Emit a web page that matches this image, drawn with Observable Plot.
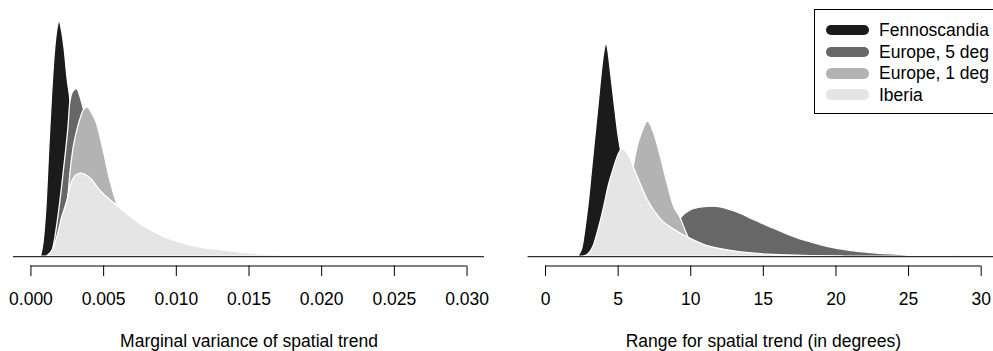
<!DOCTYPE html>
<html>
<head>
<meta charset="utf-8">
<script src="https://cdn.jsdelivr.net/npm/d3@7"></script>
<script src="https://cdn.jsdelivr.net/npm/@observablehq/plot@0.6"></script>
<style>
  html, body { margin: 0; padding: 0; background: white; }
  #wrap { position: relative; width: 993px; height: 351px; overflow: hidden; display: flex; font-family: "Liberation Sans", Arial, sans-serif; }
  #legend { position: absolute; left: 814px; top: 9px; width: 200px; height: 105px; border: 1px solid #000; background: white; box-sizing: border-box; }
  .row { position: absolute; left: 0; height: 22px; display: flex; align-items: center; }
  .sw { position: absolute; left: 11px; width: 43px; height: 10.7px; border-radius: 5.35px; }
  .lab { position: absolute; left: 64px; font-size: 17.5px; line-height: 22px; white-space: nowrap; color: #000; }
</style>
</head>
<body>
<div id="wrap"><div id="legend"></div></div>
<script>
// ---- Data (density estimates) ----
const series = ["Fennoscandia", "Europe, 5 deg", "Europe, 1 deg", "Iberia"];
const colors = ["#1b1b1b", "#676767", "#b3b3b3", "#e5e5e5"];

// Left panel: marginal variance of spatial trend  [value, density]
const varFenno = [[0.00069,0],[0.00087,60],[0.0011,247],[0.00126,460],[0.00144,672],[0.00167,885],[0.00182,965],[0.00197,1000],[0.00212,965],[0.00231,885],[0.00255,741],[0.00268,683],[0.0029,520],[0.0031,380],[0.0034,200],[0.0038,70],[0.0043,15],[0.005,0]];
const varEur5  = [[0.0013,0],[0.00147,17],[0.00167,77],[0.0019,174],[0.00213,289],[0.00236,417],[0.00259,557],[0.0027,650],[0.0029,700],[0.00317,713],[0.0034,680],[0.00367,620],[0.0042,500],[0.0048,300],[0.0055,130],[0.0062,40],[0.007,10],[0.008,0]];
const varEur1  = [[0.0015,0],[0.002,80],[0.0024,180],[0.0026,270],[0.0027,345],[0.00293,460],[0.00328,557],[0.00362,620],[0.0039,635],[0.0042,610],[0.00454,566],[0.005,451],[0.00546,323],[0.00592,225],[0.0065,130],[0.0075,50],[0.0085,15],[0.01,0]];
const varIber  = [[0.0011,0],[0.00156,34],[0.0019,103],[0.00213,162],[0.00248,231],[0.00282,316],[0.00312,345],[0.00346,353],[0.0041,332],[0.00477,280],[0.0059,217],[0.00752,139],[0.00867,97],[0.01096,47],[0.01325,26],[0.01555,11],[0.01784,4],[0.0201,0]];
const varTicks = [0, 0.005, 0.010, 0.015, 0.020, 0.025, 0.030];
const varYmax = 1000;

// Right panel: range for spatial trend (degrees)  [value, density]
const rngFenno = [[2.22,0],[2.53,0.024],[2.75,0.086],[2.98,0.168],[3.21,0.272],[3.44,0.375],[3.67,0.478],[3.9,0.582],[4.05,0.635],[4.2,0.659],[4.34,0.635],[4.48,0.582],[4.75,0.478],[5.0,0.385],[5.3,0.30],[5.6,0.2],[6.0,0.11],[6.5,0.045],[7.0,0.013],[7.6,0]];
const rngEur5  = [[6.0,0],[7.0,0.01],[8.0,0.04],[8.5,0.07],[9.0,0.1],[9.3,0.118],[9.98,0.143],[10.8,0.153],[11.6,0.155],[12.4,0.149],[13.2,0.137],[14.3,0.115],[15.5,0.091],[16.6,0.07],[17.8,0.05],[19,0.035],[20.1,0.024],[22.4,0.011],[24.7,0.005],[27,0.002],[29,0]];
const rngEur1  = [[4.5,0],[5.0,0.05],[5.5,0.15],[5.97,0.26],[6.08,0.282],[6.31,0.334],[6.66,0.385],[7.05,0.419],[7.46,0.385],[7.92,0.313],[8.38,0.23],[8.83,0.158],[9.3,0.12],[9.64,0.081],[10.0,0.045],[10.5,0.02],[11.2,0]];
const rngIber  = [[2.64,0],[2.98,0.008],[3.33,0.034],[3.67,0.086],[4.01,0.148],[4.36,0.22],[4.7,0.272],[5.05,0.318],[5.33,0.334],[5.74,0.313],[6.31,0.251],[7.0,0.179],[7.92,0.117],[9.07,0.078],[10.0,0.055],[11.0,0.035],[12.9,0.017],[15.3,0.006],[17.8,0.002],[20.5,0]];
const rngTicks = [0, 5, 10, 15, 20, 25, 30];
const rngYmax = 0.73;

const varTitle = "Marginal variance of spatial trend";
const rngTitle = "Range for spatial trend (in degrees)";

// ---- Drawing ----
const FONT = '"Liberation Sans", Arial, sans-serif';
function panel({curves, ticks, ymax, xdom, width, marginLeft, marginRight, title, titleX, fmt}) {
  const ylo = -0.04 * ymax, yhi = 1.04 * ymax;
  const marks = curves.map((c, i) => Plot.areaY(c, {
    x: d => d[0], y: d => d[1], fill: colors[i], stroke: "white", strokeWidth: 1.3, curve: "monotone-x"
  }));
  marks.push(Plot.ruleY([0], {stroke: "#2e2e2e", strokeWidth: 1.4}));
  marks.push(Plot.ruleY([ylo], {x1: ticks[0], x2: ticks[ticks.length - 1], stroke: "black", strokeWidth: 1}));
  marks.push(Plot.axisX({ticks, tickSize: 10.5, tickPadding: 15.6, tickFormat: fmt, label: null, stroke: "black", fill: "black", fontSize: 17.5}));
  marks.push(Plot.text([title], {x: titleX, frameAnchor: "bottom", lineAnchor: "bottom", dy: 81, fontSize: 17.5, fill: "black"}));
  return Plot.plot({
    width, height: 351,
    marginLeft, marginRight, marginTop: 11.6, marginBottom: 85.5,
    x: {domain: xdom, axis: null},
    y: {domain: [ylo, yhi], axis: null},
    style: {fontFamily: FONT, fontSize: "17.5px", background: "white", overflow: "visible"},
    marks
  });
}

const wrap = document.getElementById("wrap");
const left = panel({
  curves: [varFenno, varEur5, varEur1, varIber], ticks: varTicks, ymax: varYmax,
  xdom: [-0.0012, 0.0312], width: 497, marginLeft: 13, marginRight: 13,
  title: varTitle, titleX: 0.015, fmt: d3.format(".3f")
});
const right = panel({
  curves: [rngFenno, rngEur5, rngEur1, rngIber], ticks: rngTicks, ymax: rngYmax,
  xdom: [-1.2, 30.85], width: 496, marginLeft: 30.6, marginRight: 0,
  title: rngTitle, titleX: 15, fmt: d3.format("d")
});
left.style.flex = "none"; right.style.flex = "none";
wrap.insertBefore(left, wrap.firstChild);
wrap.insertBefore(right, document.getElementById("legend"));

// Legend
const legend = document.getElementById("legend");
const rowCenters = [21, 43, 64.3, 85.7];
series.forEach((name, i) => {
  const sw = document.createElement("div");
  sw.className = "sw";
  sw.style.background = colors[i];
  sw.style.top = (rowCenters[i] - 1 - 5.35) + "px";
  legend.appendChild(sw);
  const lab = document.createElement("div");
  lab.className = "lab";
  lab.textContent = name;
  lab.style.top = (rowCenters[i] - 1 - 11) + "px";
  legend.appendChild(lab);
});
</script>
</body>
</html>
